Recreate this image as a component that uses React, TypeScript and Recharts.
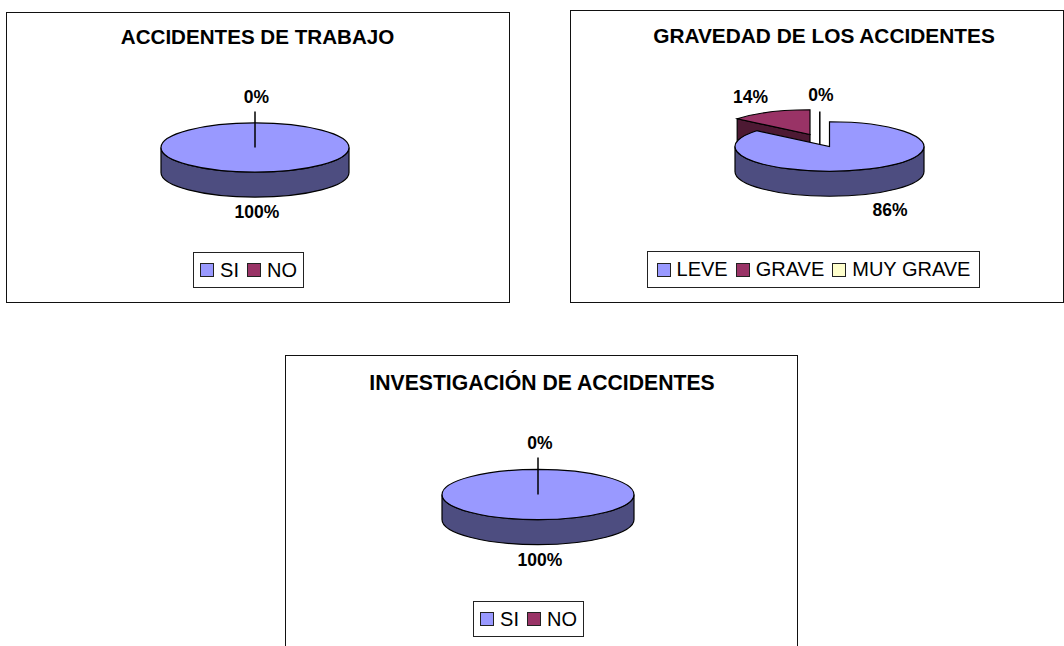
import React from "react";
import { PieChart, Pie, Legend } from "recharts";

// ---- data ----
const trabajoNames = ["SI", "NO"];
const trabajoValues = [100, 0];
const gravedadNames = ["LEVE", "GRAVE", "MUY GRAVE"];
const gravedadValues = [86, 14, 0];
const investigacionNames = ["SI", "NO"];
const investigacionValues = [100, 0];

const titleTrabajo = "ACCIDENTES DE TRABAJO";
const titleGravedad = "GRAVEDAD DE LOS ACCIDENTES";
const titleInvestigacion = "INVESTIGACIÓN DE ACCIDENTES";

// ---- styling ----
const FILLS = ["#9999FF", "#993366", "#FFFFCC"];
const WALLS = ["#4D4D80", "#4D1933", "#808066"];
const FONT = '"Liberation Sans", Arial, sans-serif';
const TILT = 0.262;
const DEPTH = 25;
const EDGE = 1.2;

type Cfg = {
  title: string;
  titleSize: number;
  names: string[];
  values: number[];
  box: { left: number; top: number; width: number; height: number };
  center: [number, number];
  radius: number;
  titlePos: [number, number];
  explode: [number, number][];
  stem: number;
  labelPos: [number, number][];
  legend: { left: number; top: number; width: number; height: number };
};

const pt = (cx: number, cy: number, r: number, a: number): [number, number] => {
  const t = (a * Math.PI) / 180;
  return [cx + r * Math.sin(t), cy - r * TILT * Math.cos(t)];
};

const arc = (cx: number, cy: number, r: number, a1: number, a2: number, first: boolean) => {
  // clockwise from a1 to a2 (degrees from the top)
  const s = pt(cx, cy, r, a1);
  const e = pt(cx, cy, r, a2);
  const ry = r * TILT;
  const start = first ? `M${s[0]},${s[1]}` : `L${s[0]},${s[1]}`;
  if (a2 - a1 >= 359.99) {
    const m = pt(cx, cy, r, a1 + 180);
    return `${start}A${r},${ry} 0 0 1 ${m[0]},${m[1]}A${r},${ry} 0 0 1 ${e[0]},${e[1]}`;
  }
  return `${start}A${r},${ry} 0 ${a2 - a1 > 180 ? 1 : 0} 1 ${e[0]},${e[1]}`;
};

const revArc = (cx: number, cy: number, r: number, a1: number, a2: number) => {
  const e = pt(cx, cy, r, a2);
  const s = pt(cx, cy, r, a1);
  const ry = r * TILT;
  return `L${e[0]},${e[1]}A${r},${ry} 0 ${a2 - a1 > 180 ? 1 : 0} 0 ${s[0]},${s[1]}`;
};

const angles = (p: any) => [90 - p.startAngle, 90 - p.endAngle];

const makeWall = (cfg: Cfg) => (p: any) => {
  const [a1, a2] = angles(p);
  if (a2 - a1 < 0.01) return <g />;
  const [dx, dy] = cfg.explode[p.index] || [0, 0];
  const cx = p.cx + dx;
  const cy = p.cy + dy;
  const r = p.outerRadius;
  const wall = WALLS[p.index];
  const parts: React.ReactNode[] = [];
  const lo = Math.max(a1, 90);
  const hi = Math.min(a2, 270);
  if (hi > lo) {
    const d = arc(cx, cy, r, lo, hi, true) + revArc(cx, cy + DEPTH, r, lo, hi) + "Z";
    parts.push(<path key="o" d={d} fill={wall} stroke="#000" strokeWidth={EDGE} />);
  }
  const face = (a: number, k: string) => {
    const q = pt(cx, cy, r, a);
    const d = `M${cx},${cy}L${q[0]},${q[1]}L${q[0]},${q[1] + DEPTH}L${cx},${cy + DEPTH}Z`;
    parts.push(<path key={k} d={d} fill={wall} stroke="#000" strokeWidth={EDGE} />);
  };
  if (a1 > 180 && a1 < 360) face(a1, "a");
  if (a2 > 0 && a2 < 180) face(a2, "b");
  return <g>{parts}</g>;
};

const makeTop = (cfg: Cfg) => (p: any) => {
  const [a1, a2] = angles(p);
  const [dx, dy] = cfg.explode[p.index] || [0, 0];
  const cx = p.cx + dx;
  const cy = p.cy + dy;
  const r = p.outerRadius;
  if (a2 - a1 < 0.01) {
    return <line x1={cx} y1={cy} x2={cx} y2={cy - cfg.stem} stroke="#000" strokeWidth={1.5} />;
  }
  const full = a2 - a1 >= 359.99;
  const d = full
    ? arc(cx, cy, r, a1, a2, true) + "Z"
    : `M${cx},${cy}` + arc(cx, cy, r, a1, a2, false) + "Z";
  return <path d={d} fill={p.fill} stroke="#000" strokeWidth={EDGE} />;
};

const makeLabel = (cfg: Cfg) => (p: any) => (
  <text
    x={p.cx + cfg.labelPos[p.index][0]}
    y={p.cy + cfg.labelPos[p.index][1]}
    textAnchor="middle"
    dominantBaseline="central"
    fontFamily={FONT}
    fontWeight="bold"
    fontSize={17.5}
    fill="#000"
  >
    {`${Math.round(p.percent * 100)}%`}
  </text>
);

const makeLegend = (cfg: Cfg) => (props: any) => (
  <div
    style={{
      boxSizing: "border-box",
      width: cfg.legend.width,
      height: cfg.legend.height,
      border: "1.2px solid #222",
      background: "#fff",
      display: "flex",
      alignItems: "center",
      justifyContent: "center",
      fontFamily: FONT,
      fontSize: 20,
      color: "#000",
      gap: 8,
      whiteSpace: "nowrap",
    }}
  >
    {(props.payload || [])
      .filter((it: any) => it.type !== "none")
      .map((it: any) => (
        <span key={it.value} style={{ display: "inline-flex", alignItems: "center", gap: 6 }}>
          <span
            style={{
              display: "inline-block",
              boxSizing: "border-box",
              width: 14,
              height: 14,
              background: it.payload?.fill ?? it.color,
              border: "1.2px solid #222",
            }}
          />
          {it.value}
        </span>
      ))}
  </div>
);

const Chart = ({ cfg }: { cfg: Cfg }) => {
  const data = cfg.names.map((name, i) => ({ name, value: cfg.values[i], fill: FILLS[i] }));
  const { left, top, width, height } = cfg.box;
  const cx = cfg.center[0] - left;
  const cy = cfg.center[1] - top;
  return (
    <div style={{ position: "absolute", left, top, width, height }}>
      <div
        style={{
          position: "absolute",
          inset: 0,
          boxSizing: "border-box",
          border: "1.5px solid #111",
          background: "#fff",
        }}
      />
      <PieChart
        width={width}
        height={height}
        margin={{ top: 0, right: 0, bottom: 0, left: 0 }}
        style={{ position: "absolute", left: 0, top: 0 }}
      >
        <text
          x={cfg.titlePos[0] - left}
          y={cfg.titlePos[1] - top}
          textAnchor="middle"
          dominantBaseline="central"
          fontFamily={FONT}
          fontWeight="bold"
          fontSize={cfg.titleSize}
          fill="#000"
        >
          {cfg.title}
        </text>
        <Pie
          data={data}
          dataKey="value"
          nameKey="name"
          cx={cx}
          cy={cy}
          outerRadius={cfg.radius}
          startAngle={90}
          endAngle={-270}
          stroke="none"
          legendType="none"
          shape={makeWall(cfg)}
          isAnimationActive={false}
          label={false}
        />
        <Pie
          data={data}
          dataKey="value"
          nameKey="name"
          cx={cx}
          cy={cy}
          outerRadius={cfg.radius}
          startAngle={90}
          endAngle={-270}
          legendType="square"
          shape={makeTop(cfg)}
          isAnimationActive={false}
          label={makeLabel(cfg)}
          labelLine={false}
        />
        <Legend
          content={makeLegend(cfg)}
          itemSorter={null}
          wrapperStyle={{
            position: "absolute",
            left: cfg.legend.left - left,
            top: cfg.legend.top - top,
            width: cfg.legend.width,
            height: cfg.legend.height,
            bottom: "auto",
          }}
        />
      </PieChart>
    </div>
  );
};

const charts: Cfg[] = [
  {
    title: titleTrabajo,
    titleSize: 20.6,
    names: trabajoNames,
    values: trabajoValues,
    box: { left: 6, top: 12, width: 504, height: 291 },
    center: [255, 147.5],
    radius: 94,
    titlePos: [257.5, 36.5],
    explode: [[0, 0], [0, 0]],
    stem: 36,
    labelPos: [[2, 64.5], [1.5, -50.5]],
    legend: { left: 193, top: 252, width: 111, height: 36 },
  },
  {
    title: titleGravedad,
    titleSize: 20.85,
    names: gravedadNames,
    values: gravedadValues,
    box: { left: 570, top: 10, width: 494, height: 293 },
    center: [829.5, 146.5],
    radius: 94.5,
    titlePos: [824, 35],
    explode: [[0, 0], [-19.5, -12], [-9.7, -2]],
    stem: 33,
    labelPos: [[60.5, 63.5], [-79, -49.5], [-8.5, -51.5]],
    legend: { left: 647, top: 251, width: 333, height: 37 },
  },
  {
    title: titleInvestigacion,
    titleSize: 21.2,
    names: investigacionNames,
    values: investigacionValues,
    box: { left: 285, top: 355, width: 513, height: 320 },
    center: [538, 494.5],
    radius: 96,
    titlePos: [542, 382],
    explode: [[0, 0], [0, 0]],
    stem: 37,
    labelPos: [[2, 65.5], [2, -52]],
    legend: { left: 473, top: 601, width: 111, height: 36 },
  },
];

export default function App() {
  return (
    <div
      style={{
        position: "absolute",
        left: 0,
        top: 0,
        width: 1064,
        height: 646,
        overflow: "hidden",
        background: "#fff",
      }}
    >
      {charts.map((c) => (
        <Chart key={c.title} cfg={c} />
      ))}
    </div>
  );
}
